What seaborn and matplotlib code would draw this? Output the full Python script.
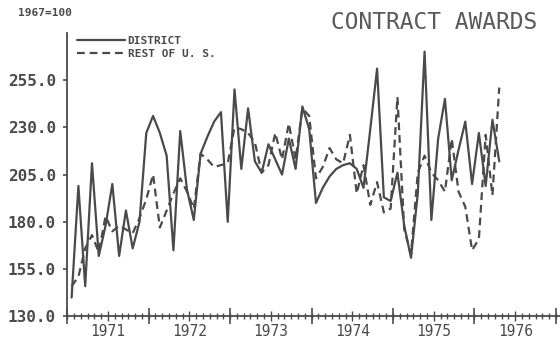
import numpy as np
import pandas as pd
import matplotlib
matplotlib.use("Agg")
import matplotlib.pyplot as plt
import seaborn as sns

# monthly index values, Jan 1971 .. Apr 1976 (1967=100)
district = [140, 199, 146, 211, 162, 178, 200, 162, 186, 166, 180, 227,
            236, 227, 215, 165, 228, 197, 181, 216, 225, 233, 238, 180,
            250, 208, 240, 212, 206, 221, 213, 205, 224, 208, 241, 229,
            190, 198, 204, 208, 210, 211, 208, 198, 229, 261, 193, 191,
            206, 178, 161, 195, 270, 181, 224, 245, 202, 218, 233, 200,
            227, 199, 234, 212]
rest_of_us = [146, 151, 166, 173, 164, 183, 175, 178, 176, 174, 182, 192,
              205, 177, 186, 195, 203, 196, 187, 216, 213, 209, 210, 211,
              230, 229, 227, 222, 206, 210, 227, 213, 232, 213, 240, 236,
              203, 209, 219, 213, 211, 226, 195, 210, 189, 201, 185, 187,
              246, 176, 163, 206, 215, 206, 202, 196, 224, 196, 188, 165,
              171, 226, 194, 251]
series_names = ["DISTRICT", "REST OF U. S."]
years = [1971, 1972, 1973, 1974, 1975, 1976]
y_ticks = [130, 155, 180, 205, 230, 255]

months = np.arange(len(district))
t = 1971 + (months + 0.65) / 12.0
df = pd.DataFrame({
    "t": np.concatenate([t, t]),
    "value": district + rest_of_us,
    "series": [series_names[0]] * len(district) + [series_names[1]] * len(rest_of_us),
})

sns.set_theme(style="white")
plt.rcParams["font.family"] = ["DejaVu Sans Mono", "DejaVu Sans"]

ink = "#4a4a4a"
fig = plt.figure(figsize=(5.6, 3.44), dpi=100)
ax = fig.add_axes([0.12, 0.08, 0.88, 0.825])

sns.lineplot(data=df, x="t", y="value", hue="series", style="series",
             palette=[ink, ink], dashes={series_names[0]: "",
                                         series_names[1]: (3.5, 2.2)},
             linewidth=1.6, ax=ax, legend=True)

ax.set_xlim(1971.0, 1977.05)
ax.set_ylim(130, 280)
ax.set_xlabel("")
ax.set_ylabel("")

for s in ["top", "right"]:
    ax.spines[s].set_visible(False)
for s in ["left", "bottom"]:
    ax.spines[s].set_color(ink)
    ax.spines[s].set_linewidth(1.3)

ax.tick_params(which="both", bottom=True, left=True)
ax.set_yticks(y_ticks)
ax.set_yticklabels([f"{v:.1f}" for v in y_ticks], fontsize=11.5,
                   fontweight="bold", color=ink)
ax.tick_params(axis="y", direction="out", length=3, width=1.2, color=ink, pad=5)

# year labels at mid-year, monthly minor ticks
ax.set_xticks([y + 0.5 for y in years])
ax.set_xticklabels([str(y) for y in years], fontsize=10.5, color=ink)
ax.set_xticks(np.arange(1971, 1977.05, 1 / 12), minor=True)
ax.tick_params(axis="x", which="major", direction="inout", length=7,
               width=1.0, color=ink, pad=2)
ax.tick_params(axis="x", which="minor", direction="inout", length=5,
               width=1.0, color=ink)
sec = ax.secondary_xaxis("bottom")
sec.set_xticks(years + [1977])
sec.set_xticklabels([])
sec.tick_params(bottom=True, direction="inout", length=11, width=1.2, color=ink)
sec.spines["bottom"].set_visible(False)

leg = ax.legend(loc="upper left", bbox_to_anchor=(0.02, 0.99), frameon=False,
                handlelength=4.3, handletextpad=0.25, labelspacing=0.3,
                borderaxespad=0, borderpad=0,
                prop={"family": "DejaVu Sans Mono", "weight": "bold", "size": 8})
for txt in leg.get_texts():
    txt.set_color(ink)

fig.text(0.032, 0.962, "1967=100", fontsize=8, fontweight="bold", color=ink,
         ha="left", va="center")
fig.text(0.96, 0.935, "CONTRACT AWARDS", fontsize=16.5, color="#5a5a5a",
         ha="right", va="center")

fig.savefig("out.png", dpi=100, facecolor="white")
